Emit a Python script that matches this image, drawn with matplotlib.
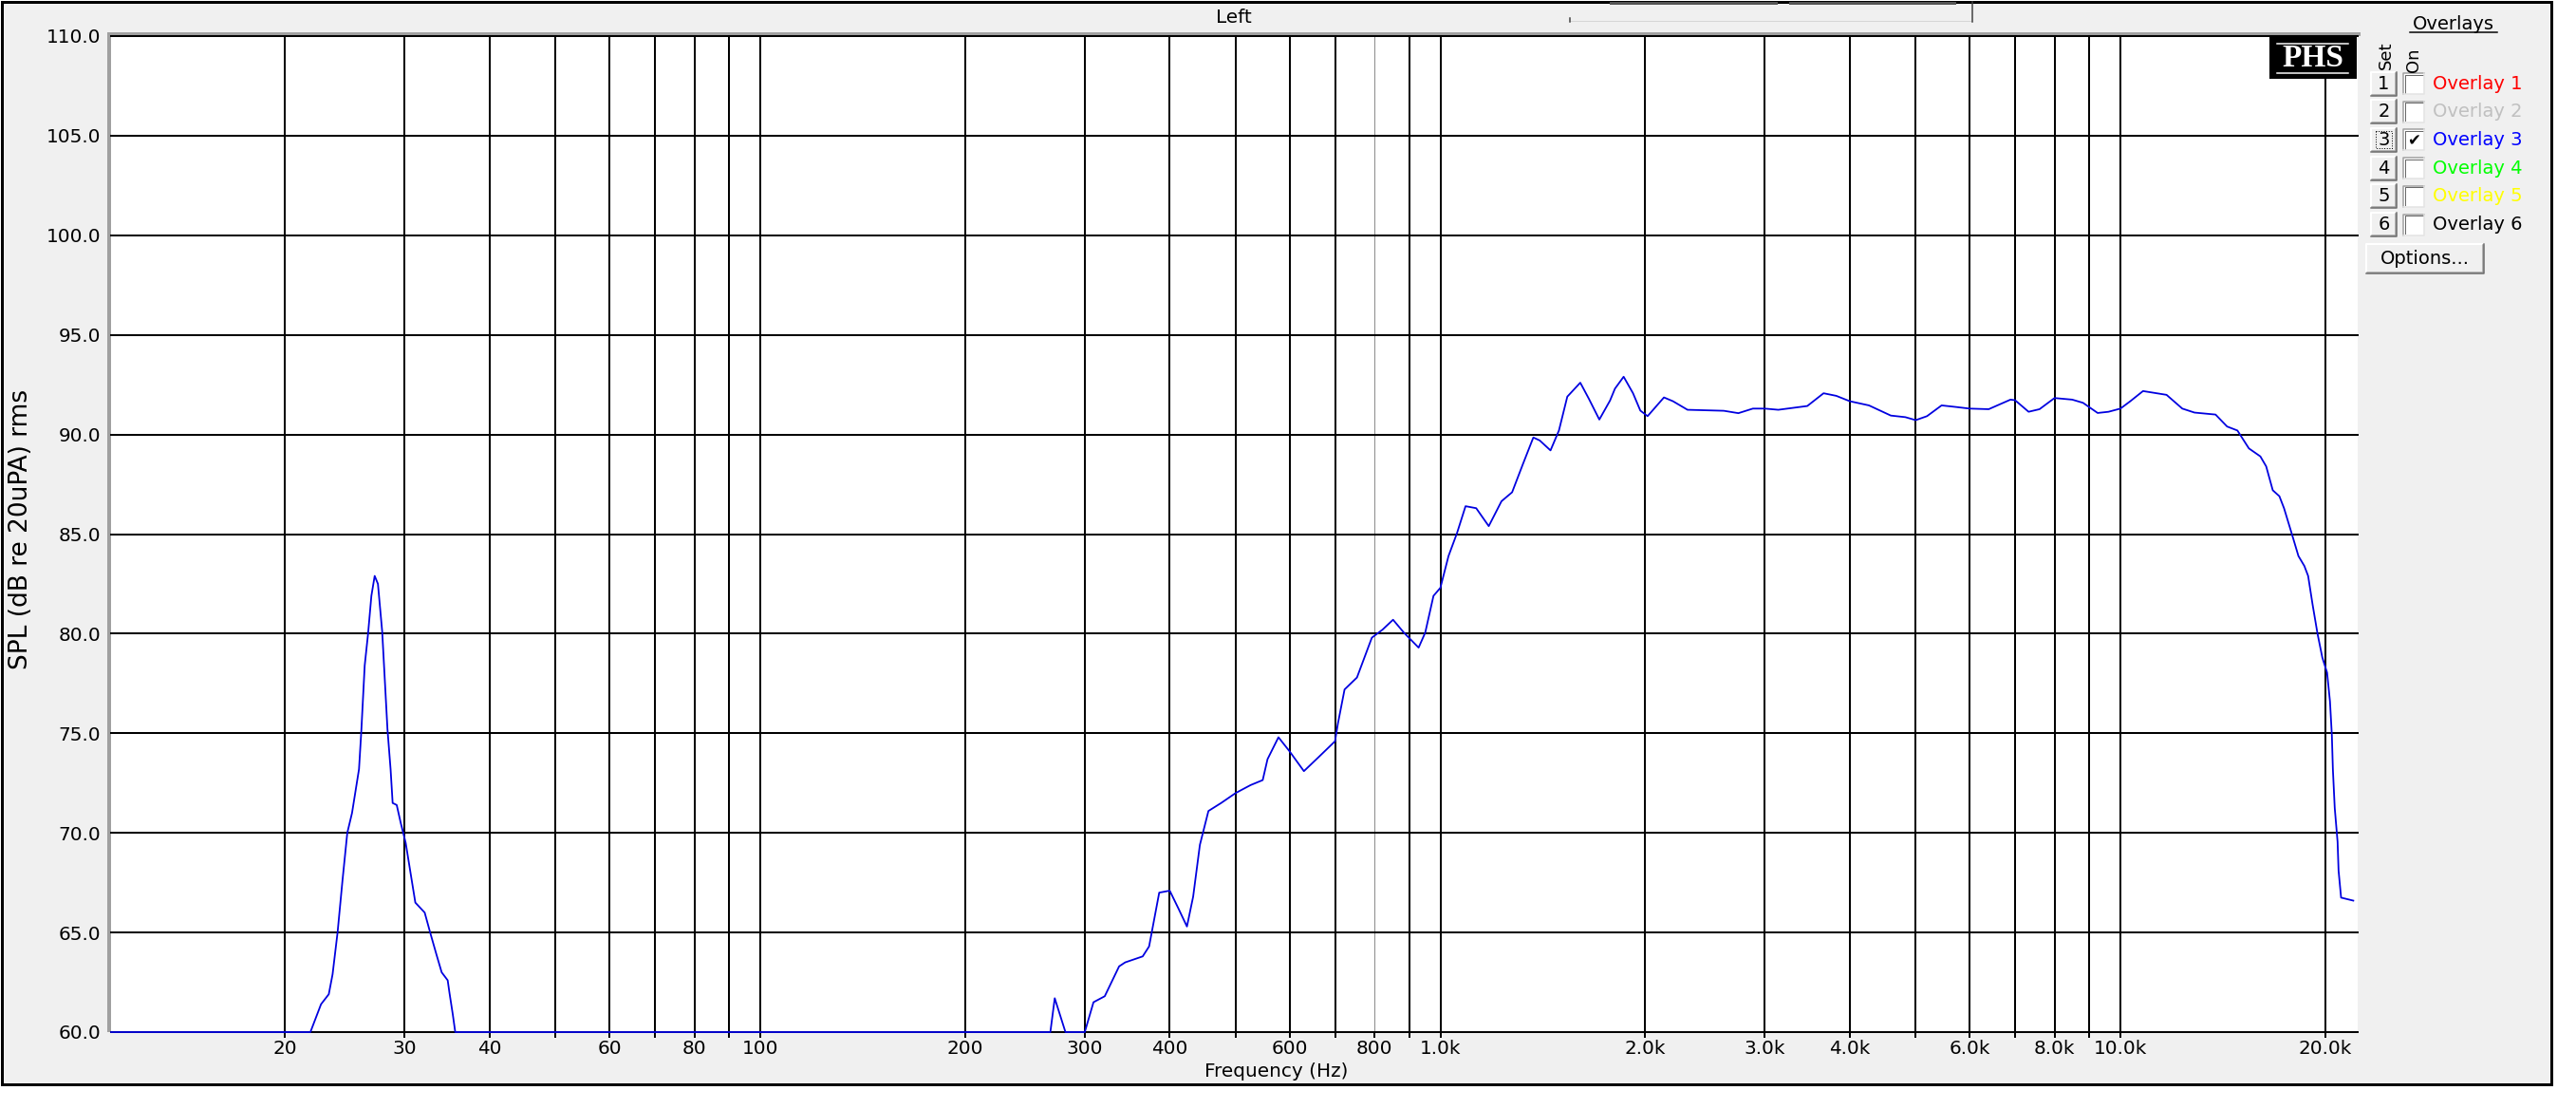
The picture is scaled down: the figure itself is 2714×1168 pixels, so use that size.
import matplotlib
matplotlib.use("Agg")
import matplotlib.pyplot as plt
from matplotlib.patches import Rectangle
from matplotlib.ticker import FixedLocator, FixedFormatter, NullLocator

W, H = 2714, 1168
PX = 0.72  # points per pixel at dpi=100

# frequency response (Overlay 3), floor clipped at 60 dB
freq_hz = [11.1, 21.8, 22.2, 22.6, 23.2, 23.5, 23.9, 24.3, 24.7, 25.1, 25.7, 25.9,
           26.2, 26.5, 26.8, 27.1, 27.4, 27.8, 28.0, 28.3, 28.6, 28.8, 29.2, 29.6,
           30.1, 30.6, 31.1, 32.1, 32.7, 33.4, 34.0, 34.7, 34.9, 35.3, 35.6,
           267, 271, 281, 300,
           309, 321, 337, 344, 365, 373, 386, 400, 412, 424, 433, 443, 456, 476,
           500, 526, 548, 557, 578, 600, 630, 662, 700, 707, 723, 754, 793, 822,
           852, 884, 929, 950, 977, 1000, 1028, 1058, 1089, 1129, 1178, 1230,
           1275, 1322, 1370, 1400, 1452, 1494, 1537, 1606, 1653, 1713, 1776, 1806,
           1860, 1920, 1968, 2017, 2132, 2198, 2309, 2611, 2743, 2881, 3000, 3140,
           3464, 3660, 3821, 4000, 4268, 4596, 4828, 5000, 5195, 5458, 5732, 6000,
           6402, 6892, 7000, 7328, 7604, 8000, 8494, 8810, 9258, 9605, 10000,
           10340, 10795, 11690, 12330, 12850, 13800, 14350, 14860, 15450, 16060,
           16380, 16750, 17130, 17400, 17870, 18270, 18640, 18880, 19170, 19490,
           19810, 20130, 20330, 20460, 20530, 20660, 20860, 20930, 21110, 22000]
spl_db = [60.0, 60.0, 60.7, 61.4, 61.9, 62.9, 65.0, 67.6, 70.0, 71.0, 73.2, 75.1,
          78.4, 80.0, 81.9, 82.9, 82.5, 80.1, 78.1, 75.2, 73.2, 71.5, 71.4, 70.5,
          69.5, 68.0, 66.5, 66.0, 65.0, 63.9, 63.0, 62.6, 62.0, 60.9, 60.0,
          60.0, 61.7, 60.0, 60.0,
          61.5, 61.8, 63.3, 63.5, 63.8, 64.3, 67.0, 67.1, 66.2, 65.3, 66.8, 69.4, 71.1, 71.5,
          72.0, 72.4, 72.65, 73.7, 74.8, 74.1, 73.1, 73.8, 74.6, 75.5, 77.2, 77.8, 79.8, 80.2,
          80.7, 80.05, 79.3, 80.05, 81.9, 82.3, 83.9, 85.05, 86.4, 86.3, 85.4, 86.65,
          87.1, 88.5, 89.85, 89.7, 89.2, 90.2, 91.9, 92.6, 91.8, 90.75, 91.7, 92.3,
          92.9, 92.07, 91.2, 90.92, 91.86, 91.67, 91.24, 91.19, 91.07, 91.3, 91.3, 91.24,
          91.43, 92.07, 91.94, 91.67, 91.46, 90.95, 90.87, 90.72, 90.92, 91.46, 91.38, 91.3,
          91.27, 91.75, 91.72, 91.14, 91.27, 91.83, 91.75, 91.59, 91.08, 91.14, 91.3,
          91.67, 92.18, 91.99, 91.3, 91.1, 91.0, 90.4, 90.2, 89.3, 88.9,
          88.4, 87.2, 86.9, 86.3, 85.0, 83.9, 83.4, 82.9, 81.45, 80.0,
          78.8, 78.05, 76.6, 74.9, 73.2, 71.25, 69.55, 68.1, 66.75, 66.6]

grid_hz = [20, 30, 40, 50, 60, 70, 80, 90, 100, 200, 300, 400, 500, 600, 700, 800,
           900, 1000, 2000, 3000, 4000, 5000, 6000, 7000, 8000, 9000, 10000, 20000]
label_hz = [20, 30, 40, 60, 80, 100, 200, 300, 400, 600, 800, 1000, 2000, 3000,
            4000, 6000, 8000, 10000, 20000]
label_txt = ["20", "30", "40", "60", "80", "100", "200", "300", "400", "600", "800",
             "1.0k", "2.0k", "3.0k", "4.0k", "6.0k", "8.0k", "10.0k", "20.0k"]
db_ticks = [60, 65, 70, 75, 80, 85, 90, 95, 100, 105, 110]

overlay_names = ["Overlay 1", "Overlay 2", "Overlay 3", "Overlay 4", "Overlay 5", "Overlay 6"]
overlay_colors = ["#FF0000", "#C0C0C0", "#0000FF", "#00FF00", "#FFFF00", "#000000"]
overlay_on = [False, False, True, False, False, False]

fig = plt.figure(figsize=(W / 100, H / 100), dpi=100, facecolor="white")

# window background (pixel coordinates, y down)
bg = fig.add_axes([0, 0, 1, 1], zorder=0)
bg.set_xlim(0, W)
bg.set_ylim(H, 0)
bg.axis("off")
bg.add_patch(Rectangle((1.5, 1.5), 2686, 1140, fc="#F0F0F0", ec="black", lw=3 * PX))
bg.add_patch(Rectangle((113, 34), 2374, 4, fc="#A0A0A0", ec="none"))
bg.add_patch(Rectangle((113, 34), 4, 1053, fc="#A0A0A0", ec="none"))
bg.text(1300, 19, "Left", fontsize=14.4, ha="center", va="center")
# bits of cut-off controls along the top
bg.add_patch(Rectangle((1696, 2), 177, 3, fc="#555555", ec="none"))
bg.add_patch(Rectangle((1885, 2), 176, 3, fc="#555555", ec="none"))
bg.plot([1654, 2078], [22, 22], color="#D6D6D6", lw=1 * PX)
bg.plot([2078, 2078], [2, 23], color="#404040", lw=1.5 * PX)
bg.plot([1654, 1654], [19, 23], color="#404040", lw=1.5 * PX)

# plot area
ax = fig.add_axes([117 / W, 1 - 1087 / H, (2484 - 117) / W, (1087 - 38) / H], zorder=1)
ax.set_facecolor("white")
ax.set_xscale("log")
ax.set_xlim(11.1, 22330)
ax.set_ylim(60, 110)

tick_txt = [label_txt[label_hz.index(f)] if f in label_hz else "" for f in grid_hz]
ax.xaxis.set_major_locator(FixedLocator(grid_hz))
ax.xaxis.set_major_formatter(FixedFormatter(tick_txt))
ax.xaxis.set_minor_locator(NullLocator())
ax.set_yticks(db_ticks, [f"{v:.1f}" for v in db_ticks])

ax.grid(True, color="black", lw=2 * PX)
for gl in ax.get_ygridlines():
    gl.set_clip_on(False)
gl800 = ax.get_xgridlines()[grid_hz.index(800)]
gl800.set_color("#8C8C8C")
gl800.set_linewidth(1 * PX)

for side in ["top", "right", "left"]:
    ax.spines[side].set_visible(False)
ax.spines["bottom"].set_linewidth(2 * PX)

ax.tick_params(axis="x", direction="out", length=6 * PX, width=2 * PX,
               labelsize=14.4, pad=1.5, colors="black")
ax.tick_params(axis="y", length=0, pad=11 * PX, labelsize=14.4)

ax.plot(freq_hz, spl_db, color="#0000E0", lw=1.8 * PX, clip_on=False, zorder=3)

ax.set_xlabel("Frequency (Hz)", fontsize=14.4)
ax.xaxis.label.set_va("center")
ax.xaxis.set_label_coords((1345 - 117) / 2367, (1087 - 1128) / 1049)
ax.set_ylabel("SPL (dB re 20uPA) rms", fontsize=19)
ax.yaxis.label.set_va("center")
ax.yaxis.set_label_coords((22 - 117) / 2367, (1087 - 557) / 1049)

# logo and overlay panel on top
ui = fig.add_axes([0, 0, 1, 1], zorder=2)
ui.set_xlim(0, W)
ui.set_ylim(H, 0)
ui.axis("off")
ui.set_facecolor("none")

ui.add_patch(Rectangle((2391, 38), 92, 45, fc="black", ec="none"))
ui.plot([2399, 2474], [45.5, 45.5], color="white", lw=1.5 * PX)
ui.plot([2399, 2474], [77, 77], color="white", lw=1.5 * PX)
ui.text(2437, 62, "PHS", color="white", fontsize=24, fontweight="bold",
        family=["Liberation Serif", "DejaVu Serif"], ha="center", va="center")


def raised(x0, y0, w, h):
    ui.add_patch(Rectangle((x0, y0), w, h, fc="#F0F0F0", ec="none"))
    ui.plot([x0, x0, x0 + w], [y0 + h, y0, y0], color="white", lw=2 * PX)
    ui.plot([x0 + 1, x0 + w - 1, x0 + w - 1], [y0 + h - 1, y0 + h - 1, y0 + 1],
            color="#A0A0A0", lw=1.5 * PX)
    ui.plot([x0, x0 + w, x0 + w], [y0 + h, y0 + h, y0], color="#696969", lw=1.5 * PX)


def sunken(x0, y0, w, h):
    ui.add_patch(Rectangle((x0, y0), w, h, fc="white", ec="none"))
    ui.plot([x0, x0, x0 + w], [y0 + h, y0, y0], color="#A0A0A0", lw=1.5 * PX)
    ui.plot([x0 + 1.5, x0 + 1.5, x0 + w - 1.5], [y0 + h - 1.5, y0 + 1.5, y0 + 1.5],
            color="#696969", lw=1 * PX)
    ui.plot([x0, x0 + w, x0 + w], [y0 + h, y0 + h, y0], color="#E3E3E3", lw=1.5 * PX)


ui.text(2585, 31, "Overlays", fontsize=14, ha="center", va="baseline")
ui.plot([2539, 2631], [34, 34], color="black", lw=1.5 * PX)
ui.text(2514, 73, "Set", fontsize=13, rotation=90, ha="center", va="bottom")
ui.text(2543, 76, "On", fontsize=13, rotation=90, ha="center", va="bottom")

for i, name in enumerate(overlay_names):
    cy = 88 + 29.7 * i
    raised(2498, cy - 12.5, 27, 25)
    ui.text(2511.5, cy, str(i + 1), fontsize=14, ha="center", va="center")
    sunken(2532, cy - 11, 22, 22)
    if overlay_on[i]:
        ui.text(2543, cy + 1, "\u2714", fontsize=12, ha="center", va="center")
        ui.add_patch(Rectangle((2503, cy - 9), 17, 18, fill=False, ec="black",
                               lw=1 * PX, ls=":"))
    ui.text(2563, cy, name, color=overlay_colors[i], fontsize=14, ha="left", va="center")

raised(2493, 257, 124, 31)
ui.text(2555, 272.5, "Options...", fontsize=14, ha="center", va="center")

fig.savefig("out.png", dpi=100, facecolor="white")
